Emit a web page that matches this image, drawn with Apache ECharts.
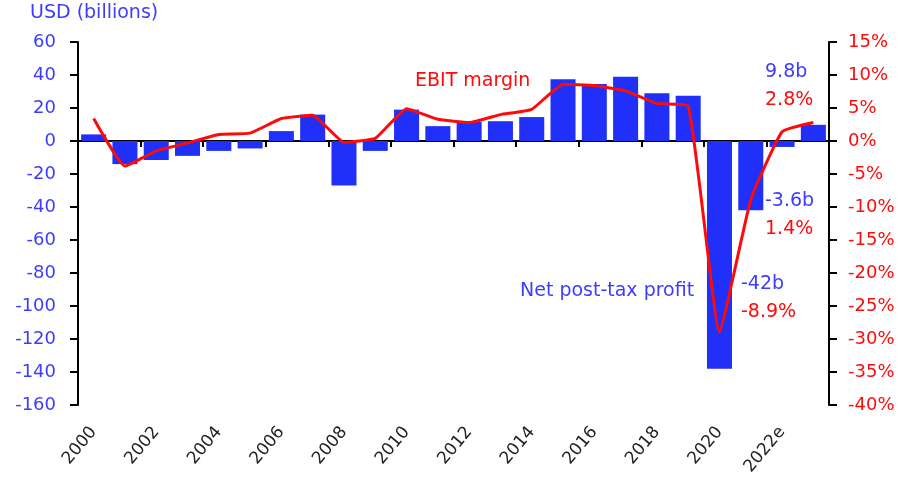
<!DOCTYPE html>
<html>
<head>
<meta charset="utf-8">
<script src="https://cdn.jsdelivr.net/npm/echarts@6/dist/echarts.min.js"></script>
<style>
  html, body { margin: 0; padding: 0; background: #fff; }
  #chart { width: 905px; height: 481px; }
</style>
</head>
<body>
<div id="chart"></div>
<script>
// categories (every other one is labelled on the axis)
const years = ['2000', '2001', '2002', '2003', '2004', '2005', '2006', '2007', '2008', '2009',
    '2010', '2011', '2012', '2013', '2014', '2015', '2016', '2017', '2018', '2019',
    '2020', '2021', '2022e', '2023e'];

// net post-tax profit, USD billions (left axis)
const netProfit = [4, -14, -11.5, -9, -6, -4.5, 6, 16, -27, -6,
    19, 9, 11.5, 12, 14.5, 37.5, 34.5, 39, 29, 27.5,
    -138, -42, -3.6, 9.8];

// EBIT margin, % (right axis)
const ebitMargin = [3.4, -3.8, -1.5, -0.3, 1.0, 1.2, 3.4, 3.9, -0.2, 0.4,
    4.9, 3.3, 2.8, 4.0, 4.8, 8.6, 8.4, 7.6, 5.7, 5.3,
    -28.9, -8.9, 1.4, 2.8];

const leftTicks = { min: -160, max: 60, step: 20 };
const rightTicks = { min: -40, max: 15, step: 5 };

const BLUE = '#2030f8';
const BLUE_TXT = '#3c3cff';
const RED = '#ff0a0a';
const FONT = 'DejaVu Sans';

const chart = echarts.init(document.getElementById('chart'));

const txt = (text, left, top, color) => ({
    type: 'text', left, top,
    style: { text, fill: color, font: `19px "${FONT}"` }
});

const option = {
    animation: false,
    grid: { left: 78, right: 76, top: 42, bottom: 76 },
    xAxis: [
        {
            // zero line with category ticks
            type: 'category',
            data: years,
            axisLine: { onZero: true, onZeroAxisIndex: 0, lineStyle: { color: '#000', width: 2 } },
            axisTick: { show: true, length: 6, lineStyle: { color: '#000', width: 2 } },
            axisLabel: { show: false },
            splitLine: { show: false }
        },
        {
            // labels only, at the bottom of the plot
            type: 'category',
            data: years,
            position: 'bottom',
            axisLine: { show: false, onZero: false },
            axisTick: { show: false },
            axisLabel: {
                interval: 1, rotate: 50, margin: 24,
                color: '#222', fontFamily: FONT, fontSize: 17
            }
        }
    ],
    yAxis: [
        {
            type: 'value',
            min: leftTicks.min, max: leftTicks.max, interval: leftTicks.step,
            axisLine: { show: true, lineStyle: { color: '#000', width: 2 } },
            axisTick: { show: true, length: 8, lineStyle: { color: '#000', width: 2 } },
            axisLabel: { margin: 22, color: BLUE_TXT, fontFamily: FONT, fontSize: 18 },
            splitLine: { show: false }
        },
        {
            type: 'value',
            position: 'right',
            min: rightTicks.min, max: rightTicks.max, interval: rightTicks.step,
            axisLine: { show: true, lineStyle: { color: '#000', width: 2 } },
            axisTick: { show: true, length: 8, lineStyle: { color: '#000', width: 2 } },
            axisLabel: { margin: 19, color: RED, fontFamily: FONT, fontSize: 18, formatter: '{value}%' },
            splitLine: { show: false }
        }
    ],
    series: [
        {
            name: 'Net post-tax profit',
            type: 'bar',
            xAxisIndex: 0, yAxisIndex: 0,
            data: netProfit,
            barCategoryGap: '20%',
            itemStyle: { color: BLUE }
        },
        {
            name: 'EBIT margin',
            type: 'line',
            xAxisIndex: 0, yAxisIndex: 1,
            data: ebitMargin,
            smooth: 0.12,
            symbol: 'none',
            lineStyle: { color: RED, width: 3 },
            z: 5
        }
    ],
    graphic: [
        txt('USD (billions)', 30, 4, BLUE_TXT),
        txt('EBIT margin', 415, 72, RED),
        txt('9.8b', 765, 63, BLUE_TXT),
        txt('2.8%', 765, 91, RED),
        txt('-3.6b', 765, 192, BLUE_TXT),
        txt('1.4%', 765, 220, RED),
        txt('Net post-tax profit', 520, 282, BLUE_TXT),
        txt('-42b', 741, 275, BLUE_TXT),
        txt('-8.9%', 741, 303, RED)
    ]
};

chart.setOption(option);
</script>
</body>
</html>
